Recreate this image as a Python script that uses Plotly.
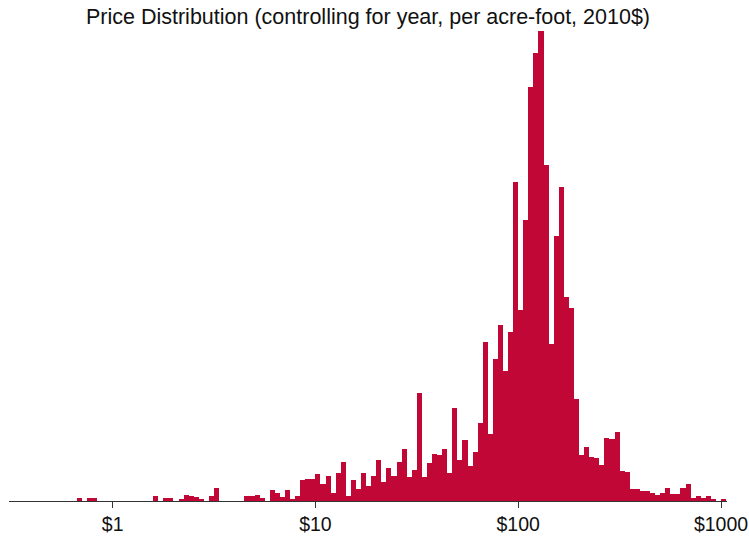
import plotly.graph_objects as go

# Histogram of log10(price per acre-foot, 2010$); bins are 0.025 decades wide.
BIN_WIDTH = 0.025
FIRST_BIN = -7  # index of first bin (bin k covers [k*w, (k+1)*w] in log10 dollars)

# Bar heights (relative frequency, arbitrary units), one per bin from FIRST_BIN upward
bar_heights = [
    3.3, 0, 3.3, 3.3, 0, 0, 0, 0, 0, 0,          # k = -7 .. 2
    0, 0, 0, 0, 0, 5.0, 0, 3.3, 3.3, 0,          # k = 3 .. 12
    1.7, 6.3, 5.0, 3.7, 2.0, 0, 5.0, 13.0, 0, 0,  # k = 13 .. 22
    0, 0, 0, 4.8, 5.2, 6.5, 3.5, 0, 10.8, 7.8,   # k = 23 .. 32
    3.7, 10.8, 2.3, 5.3, 20.8, 22.3, 22.3, 27.0, 17.2, 25.0,   # k = 33 .. 42
    7.7, 27.8, 39.3, 4.9, 20.7, 12.3, 27.6, 14.9, 24.8, 40.6,  # k = 43 .. 52
    18.6, 33.4, 25.2, 38.7, 52.2, 24.2, 31.4, 108.5, 23.8, 38.1,  # k = 53 .. 62
    46.7, 45.8, 52.2, 28.1, 92.8, 41.4, 60.9, 35.3, 49.4, 78.3,   # k = 63 .. 72
    159.0, 67.5, 142.4, 176.2, 130.4, 169.5, 319.0, 191.3, 281.0, 414.0,  # k = 73 .. 82
    447.6, 469.6, 336.0, 157.4, 265.0, 314.0, 203.8, 193.0, 102.0, 46.5,  # k = 83 .. 92
    53.6, 43.7, 43.5, 36.0, 62.7, 61.7, 69.3, 30.3, 29.0, 11.7,   # k = 93 .. 102
    11.7, 10.0, 10.3, 7.7, 5.7, 7.7, 12.7, 6.7, 7.3, 12.7,        # k = 103 .. 112
    17.5, 3.5, 4.6, 3.5, 4.6, 2.0, 0, 2.0,                       # k = 113 .. 120
]

# Axis ticks: log10 dollar positions and their labels
tick_positions = [0, 1, 2, 3]
tick_labels = ["$1", "$10", "$100", "$1000"]

bin_centers = [(FIRST_BIN + i + 0.5) * BIN_WIDTH for i in range(len(bar_heights))]

BAR_COLOR = "#C10736"

fig = go.Figure(
    go.Bar(
        x=bin_centers,
        y=bar_heights,
        width=BIN_WIDTH,
        marker=dict(color=BAR_COLOR, line=dict(width=0)),
        hoverinfo="skip",
    )
)

fig.update_layout(
    width=749,
    height=536,
    margin=dict(l=9, r=22, t=31, b=35, autoexpand=False),
    paper_bgcolor="white",
    plot_bgcolor="white",
    bargap=0,
    showlegend=False,
    font=dict(family="Arial, Liberation Sans, sans-serif", color="#111111"),
    title=dict(
        text="Price Distribution (controlling for year, per acre-foot, 2010$)",
        x=(9 + 727) / 2 / 749,
        xanchor="center",
        xref="container",
        y=1 - 16 / 536,
        yanchor="middle",
        yref="container",
        font=dict(size=21.5, color="#111111"),
    ),
)

fig.update_xaxes(
    range=[-0.511, 3.0296],
    tickmode="array",
    tickvals=tick_positions,
    ticktext=tick_labels,
    ticks="outside",
    ticklen=6,
    tickwidth=1,
    tickcolor="#333333",
    tickfont=dict(size=19.5, color="#111111"),
    showline=True,
    linecolor="#333333",
    linewidth=1,
    showgrid=False,
    zeroline=False,
    automargin=False,
)

fig.update_yaxes(
    range=[0, 470],
    visible=False,
    showgrid=False,
    zeroline=False,
    automargin=False,
)

fig.write_html("out.html")
